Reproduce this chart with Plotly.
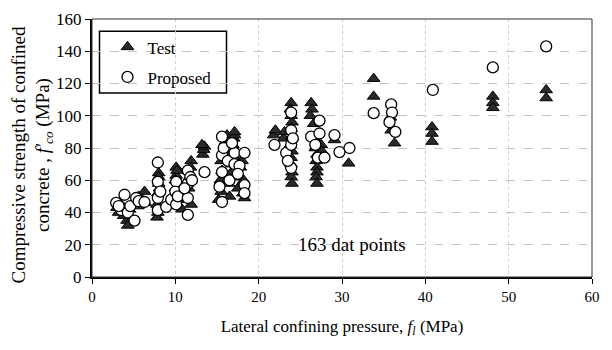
import plotly.graph_objects as go

# Test data (lateral confining pressure, compressive strength)
test_x = [3.0, 3.2, 3.5, 3.8, 4.2, 4.3, 4.5, 4.8, 5.3, 5.5, 5.6, 6.3, 6.0, 6.4,
          7.8, 7.9, 7.8, 7.9, 8.0, 8.0, 8.0, 8.1, 9.8, 9.9, 10.0, 10.1, 10.1, 10.0, 10.2,
          10.8, 11.0, 11.2, 11.5, 11.7, 11.9, 11.8, 11.9, 11.6,
          13.3, 13.4, 13.5, 13.2,
          15.2, 15.5, 15.4, 15.6, 15.5, 15.8, 16.0, 16.2, 16.5, 16.4, 16.6, 16.8, 16.7,
          16.9, 17.0, 17.1, 17.1, 17.2, 17.5, 17.6, 17.8, 18.0, 18.1, 18.3, 18.2,
          21.8, 22.0, 23.0, 23.1, 23.9, 23.8, 23.9, 24.0, 23.9, 24.0, 23.8, 24.0, 23.9,
          23.9, 24.0, 23.9, 24.0,
          26.3, 26.4, 26.2, 26.6, 27.0, 26.8, 27.0, 26.9, 27.0, 27.0, 26.9, 27.0, 27.5, 27.6,
          29.1, 30.8,
          33.8, 33.8, 35.8, 35.9, 36.3,
          40.8, 40.8, 40.8,
          48.1, 48.1, 48.1,
          54.5, 54.5]
test_y = [43, 40, 45, 38, 35, 32, 42, 36, 46, 44, 50, 53, 48, 46,
          37, 40, 45, 52, 58, 64.5, 62, 55, 45, 50, 55, 63, 68, 60, 66,
          42, 48, 52, 58, 62, 72, 68, 45, 55,
          76, 79, 81, 82,
          48, 53, 60, 66, 72, 78, 84, 88, 50, 58, 64, 70, 76,
          82, 86, 88, 90, 74, 55, 62, 68, 72, 52, 49, 60,
          88, 91, 86, 90, 108, 104, 100, 96, 92, 87, 82, 78, 74,
          70, 65, 62, 58,
          108, 104, 100, 95, 84, 80, 76, 72, 68, 65, 62, 58, 82, 78,
          85, 70.5,
          123, 112, 99, 91, 83,
          93, 89, 84,
          112, 108, 105,
          116, 111]

# Proposed model
prop_x = [2.9, 3.5, 3.9, 4.3, 4.6, 5.1, 5.3, 5.6, 6.3, 3.2,
          7.9, 7.9, 7.9, 7.9, 8.2, 8.9, 9.5, 10.1, 10.0, 10.1, 10.3, 11.5, 11.5, 11.5, 11.5,
          11.1, 11.8, 12.0,
          13.5,
          15.6, 15.6, 15.6, 15.3, 15.6, 15.8, 16.3, 16.5, 17.1, 17.1, 17.7, 18.3, 18.3, 18.3,
          17.5, 16.8,
          21.9, 23.3, 23.9, 23.9, 23.9, 23.9, 23.5, 24.1,
          26.3, 27.3, 27.3, 27.1, 27.9, 26.8,
          29.1, 29.7, 30.9,
          33.8, 35.9, 36.0, 36.4, 35.7,
          40.9,
          48.1,
          54.5]
prop_y = [46, 41.5, 51, 40, 44, 35, 49, 47, 46.5, 44,
          71, 59, 49, 41.5, 53, 43.5, 48, 59, 53, 45, 50, 66, 58, 49, 38.5,
          55, 62, 60,
          65,
          87, 75.5, 65, 56, 46.5, 80, 72, 60, 77, 70, 69, 77, 57, 52,
          64, 83,
          82, 77, 102, 91, 82, 67.6, 72, 86,
          87, 97, 89, 74, 74, 82,
          88, 77.5, 80,
          101.6, 107, 102, 90, 96,
          116,
          130,
          143]

x_ticks = [0, 10, 20, 30, 40, 50, 60]
y_ticks = [0, 20, 40, 60, 80, 100, 120, 140, 160]

FONT = "Liberation Serif"

fig = go.Figure()
fig.add_trace(go.Scatter(
    x=test_x, y=test_y, mode="markers", name="Test", legendgroup="a",
    marker=dict(symbol="triangle-up", size=11, color="#2a2a2a",
                line=dict(color="#000000", width=1)),
))
fig.add_trace(go.Scatter(
    x=prop_x, y=prop_y, mode="markers", name="Proposed", legendgroup="b",
    marker=dict(symbol="circle", size=11, color="white",
                line=dict(color="#000000", width=1.3)),
))

fig.add_annotation(x=31.2, y=20, text="163 dat points", showarrow=False,
                   font=dict(family=FONT, size=19, color="#000"))

# y-axis title (two lines, rotated)
fig.add_annotation(xref="paper", yref="paper", x=-0.119, y=0.473,
                   xanchor="center", yanchor="middle", textangle=-90,
                   showarrow=False,
                   text="Compressive strength of confined<br>concrete , <i>f'<sub>co</sub></i> (MPa)",
                   font=dict(family=FONT, size=19, color="#000"))

# plot frame (thin top/right) and legend box
fig.add_shape(type="rect", xref="paper", yref="paper", x0=0, x1=1, y0=0, y1=1,
              line=dict(color="#333", width=1), layer="above")
fig.add_shape(type="rect", xref="paper", yref="paper", x0=0.015, x1=0.269,
              y0=0.713, y1=0.953, line=dict(color="#000", width=1.5),
              fillcolor="white", layer="below")

fig.update_layout(
    width=612, height=350,
    margin=dict(l=92, r=20, t=19, b=73, autoexpand=False),
    paper_bgcolor="white", plot_bgcolor="white",
    font=dict(family=FONT, size=15, color="#000"),
    showlegend=True,
    legend=dict(x=0.031, y=0.96, xanchor="left", yanchor="top",
                borderwidth=0, bgcolor="rgba(0,0,0,0)",
                font=dict(family=FONT, size=17), tracegroupgap=5,
                traceorder="grouped"),
    xaxis=dict(range=[0, 60], tickvals=x_ticks, ticks="outside", ticklen=5,
               tickcolor="#000", showline=True, linecolor="#000", linewidth=2,
               mirror=False, showgrid=True, gridcolor="#d0d0d0", griddash="dot",
               gridwidth=1, zeroline=False, automargin=False,
               tickfont=dict(family=FONT, size=15),
               title=dict(text="Lateral confining pressure, <i>f<sub>l</sub></i> (MPa)",
                          font=dict(family=FONT, size=17), standoff=16)),
    yaxis=dict(range=[0, 160], tickvals=y_ticks, ticks="outside", ticklen=5,
               tickcolor="#000", showline=True, linecolor="#000", linewidth=2,
               mirror=False, showgrid=True, gridcolor="#c4c4c4", griddash="dash",
               gridwidth=1, zeroline=False, automargin=False,
               tickfont=dict(family=FONT, size=17)),
)

fig.write_html("out.html")
